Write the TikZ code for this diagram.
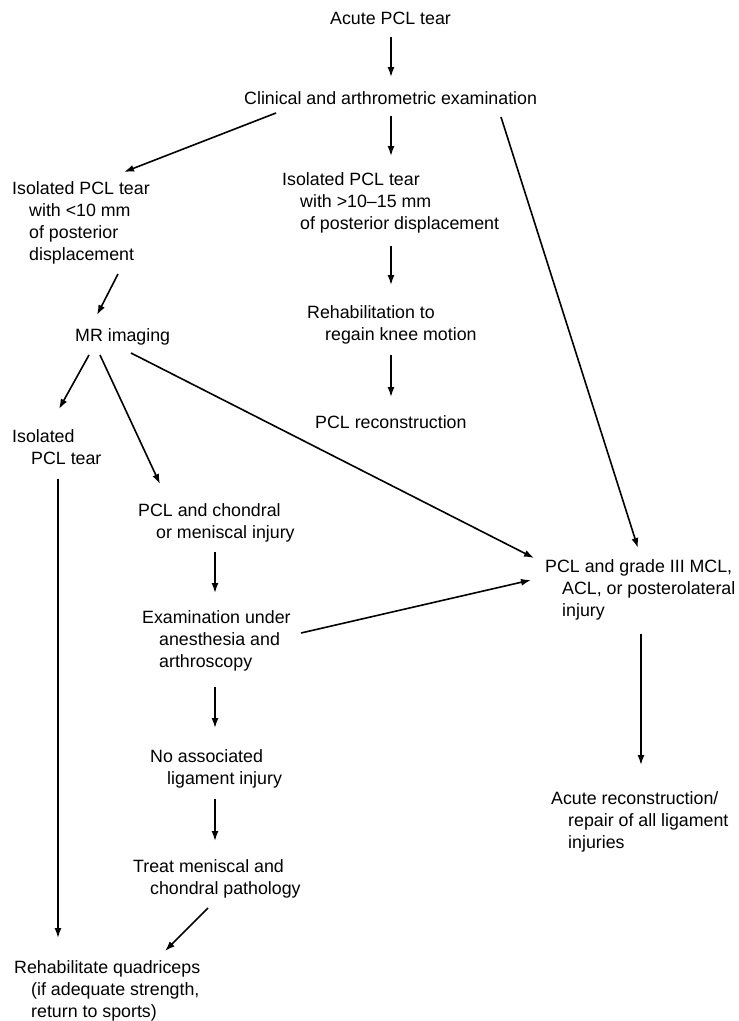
\documentclass[tikz,border=0pt]{standalone}
\usepackage{fontspec}
\setmainfont{Liberation Sans}
\usetikzlibrary{arrows.meta,calc}
\newcommand\myind{\hspace*{17pt}}
\tikzset{
  txt/.style={anchor=base west, inner sep=0pt, align=left, font=\fontsize{17.8}{22.3}\selectfont},
  arr/.style={line width=1.6pt, -{Latex[length=10pt,width=7pt]}}
}
\begin{document}
\begin{tikzpicture}[x=1pt,y=-1pt]
\fill[white] (0,0) rectangle (739,1021);
\useasboundingbox (0,0) rectangle (739,1021);

% multi-line nodes are placed by the baseline of their last line
\node[txt] (acute) at (330,24) {Acute PCL tear};
\node[txt] (clin) at (244,104) {Clinical and arthrometric examination};
\node[txt] (iso1) at (12,260.9) {Isolated PCL tear\\\myind with <10 mm\\\myind of posterior\\\myind displacement};
\node[txt] (iso2) at (282,229.6) {Isolated PCL tear\\\hspace*{18pt}with >10--15 mm\\\hspace*{18pt}of posterior displacement};
\node[txt] (rehab) at (307,340.3) {Rehabilitation to\\\hspace*{18pt}regain knee motion};
\node[txt] (pclrec) at (315,428) {PCL reconstruction};
\node[txt] (mr) at (75,341) {MR imaging};
\node[txt] (iso3) at (12,464.3) {Isolated\\\hspace*{19pt}PCL tear};
\node[txt] (chond) at (138,538.3) {PCL and chondral\\\hspace*{18pt}or meniscal injury};
\node[txt] (exam) at (142,667.6) {Examination under\\\myind anesthesia and\\\myind arthroscopy};
\node[txt] (grade) at (545,616.6) {PCL and grade III MCL,\\\myind ACL, or posterolateral\\\myind injury};
\node[txt] (noassoc) at (150,784.3) {No associated\\\myind ligament injury};
\node[txt] (treat) at (133,894.3) {Treat meniscal and\\\myind chondral pathology};
\node[txt] (rehabq) at (14,1017.6) {Rehabilitate quadriceps\\\myind (if adequate strength,\\\myind return to sports)};
\node[txt] (acuterec) at (551,848.6) {Acute reconstruction/\\\myind repair of all ligament\\\myind injuries};

\draw[arr] ($(acute.base west)+(61,13)$) -- ($(clin.base west)+(147,-27)$);
\draw[arr] ($(clin.base west)+(32,9)$) -- ($(iso1.base west)+(112,-88.9)$);
\draw[arr] ($(clin.base west)+(147,12)$) -- ($(iso2.base west)+(109,-73.6)$);
\draw[arr] ($(clin.base west)+(257,13)$) -- ($(grade.base west)+(93,-68.6)$);
\draw[arr] ($(iso2.base west)+(109,16.4)$) -- ($(rehab.base west)+(84,-55.3)$);
\draw[arr] ($(rehab.base west)+(84,14.7)$) -- ($(pclrec.base west)+(76,-31)$);
\draw[arr] ($(iso1.base west)+(106,13.1)$) -- ($(mr.base west)+(22,-26)$);
\draw[arr] ($(mr.base west)+(14,14)$) -- ($(iso3.base west)+(47,-55.3)$);
\draw[arr] ($(mr.base west)+(25,14)$) -- ($(chond.base west)+(22,-54.3)$);
\draw[arr] ($(mr.base west)+(56,12)$) -- ($(grade.base west)+(-11,-58.6)$);
\draw[arr] ($(iso3.base west)+(46,14.7)$) -- ($(rehabq.base west)+(44,-79.6)$);
\draw[arr] ($(chond.base west)+(77,13.7)$) -- ($(exam.base west)+(73,-74.6)$);
\draw[arr] ($(exam.base west)+(159,-34.6)$) -- ($(grade.base west)+(-14,-36.6)$);
\draw[arr] ($(grade.base west)+(96,17.4)$) -- ($(acuterec.base west)+(90,-83.6)$);
\draw[arr] ($(exam.base west)+(73,19.4)$) -- ($(noassoc.base west)+(65,-56.3)$);
\draw[arr] ($(noassoc.base west)+(65,14.7)$) -- ($(treat.base west)+(82,-53.3)$);
\draw[arr] ($(treat.base west)+(75,13.7)$) -- ($(rehabq.base west)+(151,-66.6)$);
\end{tikzpicture}
\end{document}
